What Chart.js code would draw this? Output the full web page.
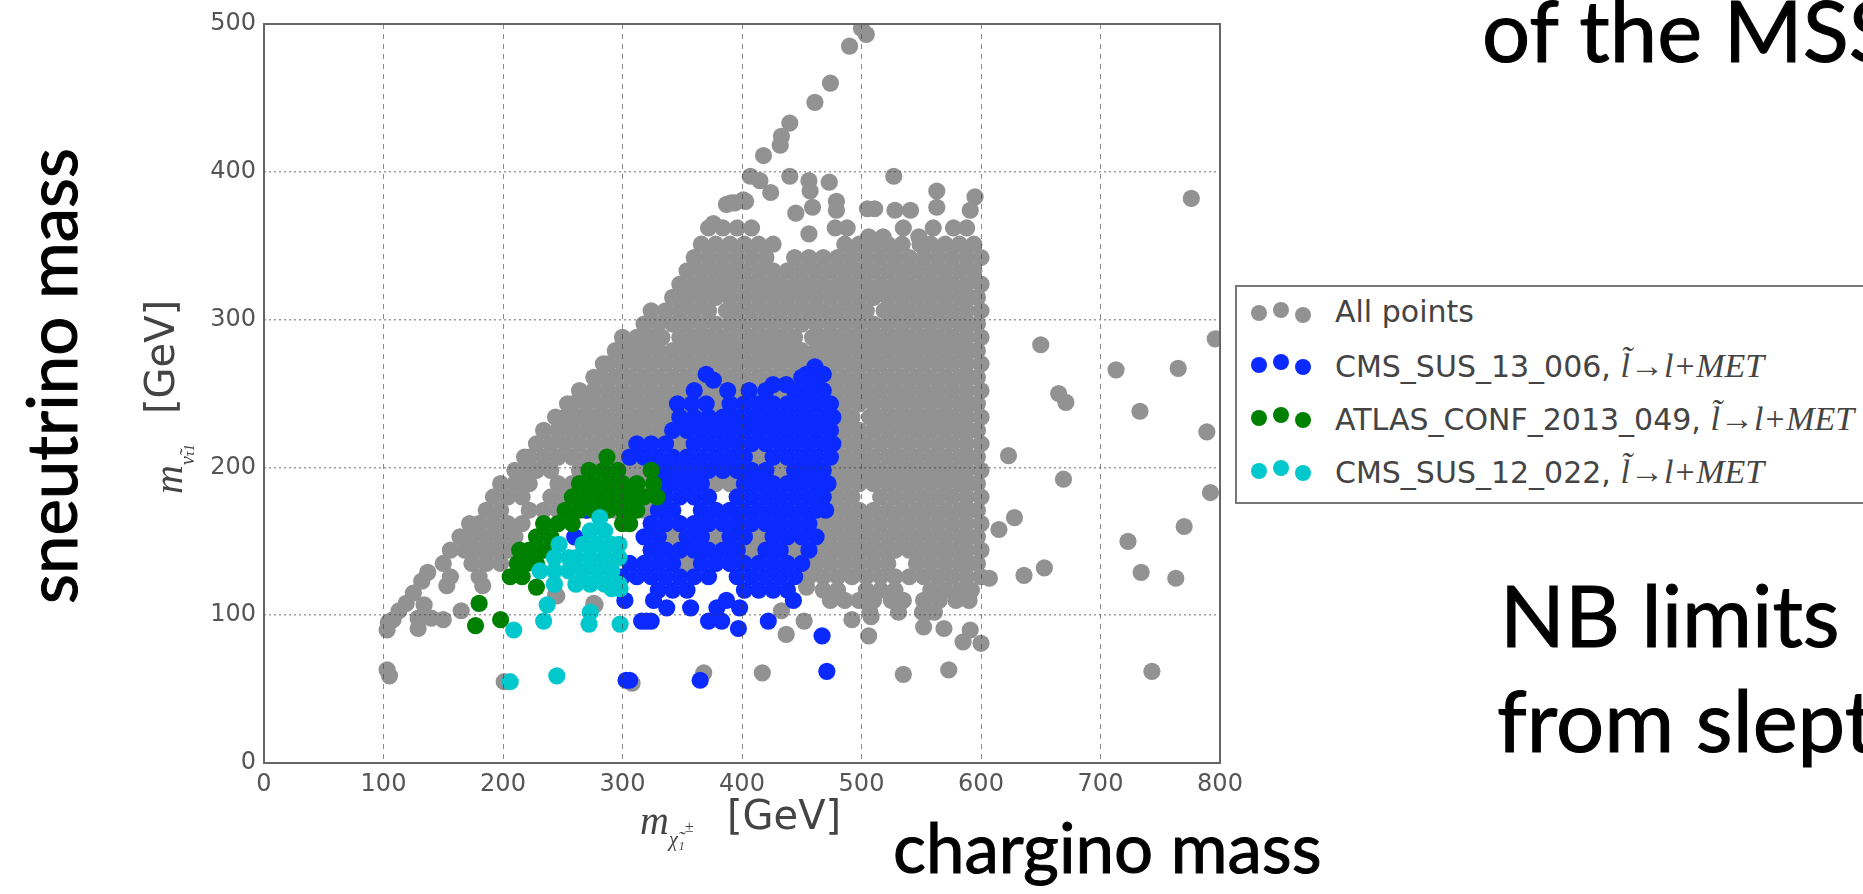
<!DOCTYPE html>
<html>
<head>
<meta charset="utf-8">
<title>sneutrino mass vs chargino mass</title>
<script src="https://cdn.jsdelivr.net/npm/chart.js@4"></script>
<style>
  html, body { margin: 0; padding: 0; width: 1863px; height: 894px; overflow: hidden; background: #fff; }
  #stage { position: absolute; left: 0; top: 0; width: 1863px; height: 894px; overflow: hidden; filter: blur(0.7px); }
  #chart { position: absolute; left: 0; top: 0; }
  .slide { position: absolute; white-space: nowrap; font-family: Lato, sans-serif; color: #000; line-height: 1; -webkit-text-stroke: 1px #000; }
  .big { font-size: 85px; }
  .mid { font-size: 69px; }
  .axis { position: absolute; white-space: nowrap; font-family: "DejaVu Sans", sans-serif; font-size: 40px; color: #444; line-height: 1; }
  .axis i { font-family: "Liberation Serif", serif; }
  .axis sub { font-family: "Liberation Serif", serif; font-size: 20px; font-style: italic; vertical-align: -12px; line-height: 0; }
  .rot { transform-origin: 0 0; transform: rotate(-90deg); }
  #legend { position: absolute; left: 1235px; top: 285px; width: 700px; height: 215px; border: 2px solid #777; background: #fff; }
  .row { position: absolute; left: 98px; white-space: nowrap; font-family: "DejaVu Sans", sans-serif; font-size: 30px; color: #444; line-height: 1; }
  .row i { font-family: "Liberation Serif", serif; font-size: 34px; }
  .dot { position: absolute; width: 16px; height: 16px; border-radius: 50%; }
</style>
</head>
<body>
<div id="stage">
  <canvas id="chart" width="1863" height="894"></canvas>

  <div class="slide big" style="left:1482px;top:-13px">of the MSS</div>
  <div class="slide big" style="left:1500px;top:572px">NB limits c</div>
  <div class="slide big" style="left:1497px;top:677px">from slept</div>
  <div class="slide mid" style="left:893px;top:812px">chargino mass</div>
  <div class="slide mid rot" style="left:16px;top:604px">sneutrino mass</div>

  <div class="axis" style="left:640px;top:800px"><i>m</i><sub>χ̃₁<sup style="font-size:16px;vertical-align:14px;line-height:0">±</sup></sub></div>
  <div class="axis" style="left:727px;top:795px">[GeV]</div>
  <div class="axis rot" style="left:140px;top:414px">[GeV]</div>
  <div class="axis rot" style="left:148px;top:494px"><i>m</i><sub>ν̃<span style="font-size:14px">τ1</span></sub></div>

  <div id="legend"></div>
</div>

<script>
/***** DATA *****/

const xTicks = [0, 100, 200, 300, 400, 500, 600, 700, 800]
const yTicks = [0, 100, 200, 300, 400, 500]

const legendNames = ['All points', 'CMS_SUS_13_006, ', 'ATLAS_CONF_2013_049, ', 'CMS_SUS_12_022, ']
const legendColors = ['#929292', '#0a2aff', '#008000', '#00c8cc']

// scattered gray points, read one by one
const graySingles = [
  [504,493],[500,497],[490,485],[474,460],[461,447],[440,433],[433,424],[432,418],[418,411],
  [407,397],[415,394],[424,386],[440,397],[456,394],[457,387],[473,393],[527,397],[479,380],
  [459,376],[445,372],[479,374],[505,375],[511,375],[528,374],[541,374],[563,387],[595,383],
  [563,376],[591,374],[456,358],[391,379],[401,381],[387,378],[394,379],[403,380],[376,365],
  [776,382],[650,283],[796,287],[713,266],[765,267],[665,250],[671,244],[733,238],[789,224],
  [623,208],[669,192],[792,183],[628,166],[615,158],[770,160],[723,150],[653,132],[636,127],
  [607,125],[734,129],[763,125],[103,90],[104,95],[103,63],[105,59],[201,55],[308,54],[368,61],
  [417,61],[535,60],[573,63],[743,62],[134,107],[129,98],[129,91],[140,98],[150,97],[165,103],
  [244,114],[276,108],[433,103],[452,96],[437,87],[492,97],[506,86],[508,99],[552,92],[569,91],
  [591,90],[585,82],[600,81],[553,101],[561,102],[108,97],[113,103],[119,108],[125,115],[132,123],
  [137,129],[245,113],[277,107],[153,120],[183,120],[454,119]
]

// gray cloud, one row per y: y first, then the x values
const grayRows = [
  [362, 372,384,396,408,478,488,535,560,577,588],
  [356, 506,518,548],
  [351, 366,378,390,402,414,426,486,498,510,522,534,549,558,570,582,594],
  [342, 360,372,384,396,408,420,444,456,468,480,492,504,516,528,540,552,564,576,588,600],
  [333, 354,366,378,390,402,414,426,438,450,462,474,486,498,510,522,534,546,558,570,582,594],
  [324, 348,360,372,384,396,408,420,432,444,456,468,480,492,504,516,528,540,552,564,576,588,600],
  [315, 342,354,366,378,390,402,414,426,438,450,462,474,486,498,510,522,534,546,558,570,582,590,597],
  [306, 324,336,348,360,372,387,396,408,420,432,444,456,468,480,492,504,519,528,540,552,564,576,588,600],
  [297, 318,330,342,354,366,378,390,402,414,426,438,450,462,474,486,498,510,522,534,546,558,570,582,590,597],
  [288, 300,312,324,333,348,360,372,384,396,408,420,432,444,459,468,480,492,504,516,528,540,552,564,576,588,600],
  [279, 294,306,318,330,342,354,366,378,390,402,414,426,438,450,462,474,486,498,510,522,534,546,558,570,582,590,597],
  [270, 284,288,300,312,324,336,348,360,372,384,396,408,420,432,444,456,468,480,492,504,516,528,540,552,564,576,588,600],
  [261, 276,282,294,306,318,330,342,354,366,378,390,402,414,426,438,450,462,474,486,498,510,522,534,546,558,570,582,590,597],
  [252, 264,276,288,300,312,324,336,348,360,372,384,396,408,420,432,444,456,468,480,492,504,516,528,540,552,564,576,588,600],
  [243, 254,258,270,282,294,306,318,330,342,354,366,378,390,402,414,426,438,450,462,474,486,498,510,522,534,546,558,570,582,590,597],
  [234, 244,252,264,276,288,300,312,324,336,348,360,372,384,396,408,420,432,444,456,468,480,492,507,516,528,540,552,564,576,588,600],
  [225, 234,246,258,270,282,294,306,318,330,342,354,366,378,390,402,414,426,438,450,462,474,486,498,510,522,534,546,558,570,582,590,597],
  [216, 228,240,252,264,276,288,300,312,324,336,348,360,372,384,396,408,420,432,444,456,468,480,492,504,516,528,540,552,564,576,588,600],
  [207, 218,222,234,246,258,270,282,294,306,318,330,342,354,366,378,390,402,414,426,438,450,462,474,486,498,510,522,534,546,558,570,582,590,597],
  [198, 210,216,228,240,264,276,288,300,312,324,336,348,360,372,384,396,408,420,432,444,456,468,480,492,504,516,528,540,552,564,576,588,600],
  [189, 198,210,222,246,258,270,282,294,306,318,330,342,354,366,378,390,402,414,426,438,450,462,474,486,498,510,522,534,546,558,570,582,590,597],
  [180, 192,204,216,240,252,264,276,288,300,312,324,336,348,360,372,396,408,420,432,444,456,468,480,492,516,528,540,552,564,576,588,600],
  [171, 186,198,222,234,246,258,270,282,294,306,318,330,342,366,378,390,402,414,426,438,450,462,474,486,498,510,522,534,546,558,570,582,590,597],
  [162, 172,180,192,204,216,324,336,348,360,372,384,396,408,420,432,444,456,468,480,492,504,516,528,540,552,564,576,588,600],
  [153, 164,174,186,198,210,330,342,354,366,378,390,402,414,426,438,450,462,474,486,498,510,522,534,546,558,570,582,590,597],
  [144, 156,168,180,192,204,324,336,348,360,372,384,396,408,420,432,444,456,468,480,492,504,516,528,540,552,564,576,588,600],
  [135, 150,174,186,198,330,342,354,366,378,390,402,414,426,438,450,462,474,486,498,510,522,546,558,570,582,590,597],
  [126, 156,180,444,456,468,480,492,504,516,528,540,552,564,576,588,600],
  [117, 468,480,504,516,528,558,570,582,592],
  [110, 474,486,498,510,525,535,552,565,579,590],
  [102, 507,531,551]
]

const blueRows = [
  [268, 461],
  [263, 370,454,468],
  [259, 376,462],
  [261, 450],
  [256, 426,437],
  [252, 360,388,406,420,444,456,468],
  [243, 346,358,370,390,402,414,426,438,450,462,474],
  [234, 348,360,372,384,396,408,420,432,444,456,468,476],
  [225, 342,354,366,378,390,402,414,426,438,450,462,474],
  [216, 312,324,336,360,372,384,396,408,420,432,444,456,468,476],
  [207, 306,318,330,342,354,366,378,390,402,426,438,450,462,474],
  [198, 336,348,360,372,384,396,408,420,444,456,468],
  [189, 330,342,354,366,402,414,426,438,450,462,472],
  [180, 336,348,360,372,396,408,420,432,444,456,468],
  [171, 270,330,342,366,378,390,402,414,426,438,450,462,470],
  [162, 324,336,348,360,372,384,396,408,420,432,444,456],
  [153, 260,318,330,354,366,390,402,426,438,450,462],
  [144, 324,336,348,360,372,384,396,420,432,456],
  [135, 306,318,330,342,366,378,390,402,414,426,438,450],
  [126, 300,312,324,336,348,360,372,396,408,420,432,444],
  [117, 330,342,354,402,414,426,438],
  [110, 302,326,387,443],
  [105, 337,357,379,398],
  [96, 320,316,324,372,383,422],
  [91, 397],
  [86, 467],
  [62, 471],
  [56, 303,306,365]
]

const greenRows = [
  [207, 287],
  [198, 272,284,296,324],
  [189, 264,276,288,300,312,326],
  [180, 258,270,282,294,306,318,329],
  [171, 252,264,276,288,300,312],
  [162, 234,246,258,300,306],
  [153, 228,240],
  [144, 214,222,234],
  [135, 212,220,228],
  [126, 206,216],
  [119, 228],
  [108, 180],
  [97, 198],
  [93, 177]
]

const cyanRows = [
  [166, 281],
  [157, 273,285],
  [148, 247,267,279,291,297],
  [139, 243,255,261,273,285,297],
  [130, 231,243,255,267,279,291],
  [121, 243,261,273,285,297],
  [118, 291,298],
  [107, 237],
  [102, 273],
  [96, 234],
  [94, 272,298],
  [90, 209],
  [59, 245],
  [55, 206]
]

/***** HELPERS *****/

const _fromRows = (rows) => rows.flatMap(([y, ...xs]) => xs.map((x) => ({x: x, y: y})))
const _fromPairs = (pairs) => pairs.map(([x, y]) => ({x: x, y: y}))

const _dataset = (label, color, data, order) => ({
  label: label,
  data: data,
  order: order,
  backgroundColor: color,
  borderColor: color,
  borderWidth: 0,
  pointRadius: 8.6,
  pointHoverRadius: 8.6
})

/***** FRAME *****/

const framePlugin = {
  id: 'frame',
  afterDraw: (chart) => {
    const {ctx, chartArea: a} = chart
    ctx.save()
    ctx.strokeStyle = '#666'
    ctx.lineWidth = 2
    ctx.strokeRect(a.left, a.top, a.right - a.left, a.bottom - a.top)
    ctx.restore()
  }
}

/***** CHART *****/

const tickFont = {family: '"DejaVu Sans"', size: 24}

new Chart(document.getElementById('chart'), {
  type: 'scatter',
  plugins: [framePlugin],
  data: {
    datasets: [
      _dataset(legendNames[0], legendColors[0], _fromPairs(graySingles).concat(_fromRows(grayRows)), 4),
      _dataset(legendNames[1], legendColors[1], _fromRows(blueRows), 3),
      _dataset(legendNames[2], legendColors[2], _fromRows(greenRows), 2),
      _dataset(legendNames[3], legendColors[3], _fromRows(cyanRows), 1)
    ]
  },
  options: {
    responsive: false,
    animation: false,
    layout: {padding: {top: 24, right: 643, left: 0, bottom: 0}},
    plugins: {legend: {display: false}, tooltip: {enabled: false}},
    scales: {
      x: {
        type: 'linear',
        min: 0,
        max: 800,
        afterFit: (scale) => { scale.height = 131 },
        afterBuildTicks: (scale) => { scale.ticks = xTicks.map((v) => ({value: v})) },
        grid: {z: 1, color: 'rgba(60,60,60,0.6)', lineWidth: 1, drawTicks: false},
        border: {display: false, dash: [5, 5]},
        ticks: {font: tickFont, color: '#555', padding: 7, maxRotation: 0}
      },
      y: {
        type: 'linear',
        min: 0,
        max: 500,
        afterFit: (scale) => { scale.width = 264 },
        afterBuildTicks: (scale) => { scale.ticks = yTicks.map((v) => ({value: v})) },
        grid: {z: 1, color: 'rgba(60,60,60,0.5)', lineWidth: 1.5, drawTicks: false},
        border: {display: false, dash: [2, 3]},
        ticks: {font: tickFont, color: '#555', padding: 8}
      }
    }
  }
})

/***** LEGEND *****/

const legendBox = document.getElementById('legend')
const rowTops = [10, 62, 115, 168]
const dotOffsets = [[14, 8], [36, 5], [58, 10]]
legendNames.forEach((name, i) => {
  dotOffsets.forEach(([dx, dy]) => {
    const dot = document.createElement('span')
    dot.className = 'dot'
    dot.style.left = dx + 'px'
    dot.style.top = (rowTops[i] + dy) + 'px'
    dot.style.background = legendColors[i]
    legendBox.appendChild(dot)
  })
  const row = document.createElement('div')
  row.className = 'row'
  row.style.top = rowTops[i] + 'px'
  row.textContent = name
  if (i > 0) {
    const math = document.createElement('i')
    math.textContent = 'l̃→l+MET'
    row.appendChild(math)
  }
  legendBox.appendChild(row)
})
</script>
</body>
</html>
